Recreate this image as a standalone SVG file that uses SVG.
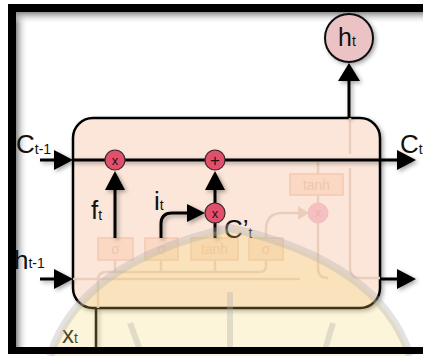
<svg xmlns="http://www.w3.org/2000/svg" width="423" height="356" viewBox="0 0 423 356">
<defs>
<style>
text{font-family:"Liberation Sans",Arial,sans-serif;fill:#111}
.big{font-size:26px}
.sub{font-size:14px}
.ln{fill:none;stroke:#000;stroke-width:3}
.fd{fill:none;stroke:#ebcdbb;stroke-width:2.5}
.fbox{fill:#fad8c4;stroke:#f3c9b0;stroke-width:1.5}
.ftx{font-size:14px;fill:#f0c6ac}
.op{fill:#e24f6d;stroke:#3a2a2a;stroke-width:1.2}
.opt{font-size:13px;fill:#2a1010;text-anchor:middle}
.ah{fill:#000}
</style>
<linearGradient id="gl" x1="0" y1="0" x2="1" y2="0"><stop offset="0" stop-color="#8a8a8a"/><stop offset="1" stop-color="#fff" stop-opacity="0"/></linearGradient>
<linearGradient id="gt" x1="0" y1="0" x2="0" y2="1"><stop offset="0" stop-color="#8a8a8a"/><stop offset="1" stop-color="#fff" stop-opacity="0"/></linearGradient>
<filter id="sh" x="-20%" y="-20%" width="140%" height="140%"><feDropShadow dx="2" dy="2" stdDeviation="2" flood-color="#000" flood-opacity="0.35"/></filter>
</defs>
<rect width="423" height="356" fill="#fff"/>
<rect x="16" y="12" width="12" height="335" fill="url(#gl)"/>
<rect x="16" y="12" width="407" height="12" fill="url(#gt)"/>
<g id="cell" filter="url(#sh)">
<rect x="73" y="118" width="307" height="190" rx="20" fill="#fce6da" stroke="#000" stroke-width="2.5"/>
</g>
<g id="faded">
<path class="fd" d="M350,118V154M350,168V268Q350,278 360,278H380"/>
<path class="fd" d="M318,162V174M318,195V204M318,222V268Q318,278 328,278"/>
<path class="fd" d="M266,238V230Q266,213 282,213H300"/>
<path d="M298,206L309,213L298,220Z" fill="#eccdb9"/>
<path class="fd" d="M115,260V272M161,260V272M215,260V272M266,260V266Q266,272 260,272H106Q98,272 98,280V308"/>
<path class="fd" d="M73,279H300"/>
<circle cx="318" cy="213" r="10" fill="#f6c0c3" stroke="#efc0b8" stroke-width="1"/>
<text x="318" y="217" class="opt" style="fill:#eab4ae">x</text>
<rect class="fbox" x="290" y="174" width="53" height="21"/>
<text class="ftx" x="316.5" y="190" text-anchor="middle">tanh</text>
<rect class="fbox" x="98" y="238" width="35" height="22"/>
<text class="ftx" x="115.5" y="254" text-anchor="middle">σ</text>
<rect class="fbox" x="145" y="238" width="33" height="22"/>
<text class="ftx" x="161.5" y="254" text-anchor="middle">σ</text>
<rect class="fbox" x="191" y="238" width="47" height="22"/>
<text class="ftx" x="214.5" y="254" text-anchor="middle">tanh</text>
<rect class="fbox" x="249" y="238" width="34" height="22"/>
<text class="ftx" x="266" y="254" text-anchor="middle">σ</text>
</g>
<g id="connectors" filter="url(#sh)">
<path class="ln" d="M40,160H56"/>
<path class="ah" d="M54,150L73,160L54,170Z"/>
<path class="ln" d="M73,160H400"/>
<path class="ah" d="M397,150L416,160L397,170Z"/>
<path class="ln" d="M40,279H56"/>
<path class="ah" d="M54,269L73,279L54,289Z"/>
<path class="ln" d="M380,279H400"/>
<path class="ah" d="M397,269L416,279L397,289Z"/>
<path class="ln" d="M349,118V78"/>
<path class="ah" d="M338,81L349,63L360,81Z"/>
<path class="ln" d="M115,238V186"/>
<path class="ah" d="M105,190L115,171L125,190Z"/>
<path class="ln" d="M215,203V186"/>
<path class="ah" d="M205,190L215,171L225,190Z"/>
<path class="ln" d="M215,238V222"/>
<path class="ln" d="M161,238V224Q161,213 172,213H190"/>
<path class="ah" d="M187,204L205,213L187,222Z"/>
<path d="M96,308V347" stroke="#000" stroke-width="2.5"/>
</g>
<g id="op-f">
<circle class="op" cx="115" cy="160" r="10"/>
<text class="opt" x="115" y="164.5">x</text>
</g>
<g id="op-plus">
<circle class="op" cx="215" cy="160" r="10"/>
<text class="opt" x="215" y="165.5" style="font-size:17px">+</text>
</g>
<g id="op-i">
<circle class="op" cx="215" cy="213" r="10"/>
<text class="opt" x="215" y="217.5">x</text>
</g>
<g id="ht" filter="url(#sh)">
<circle cx="349" cy="38" r="24" fill="#ebc3c4" stroke="#111" stroke-width="2"/>
</g>
<g id="labels">
<text x="338" y="46" style="font-size:25px">h<tspan class="sub" dy="0" style="font-size:14px">t</tspan></text>
<text x="16" y="153" class="big">C<tspan class="sub" dy="1">t-1</tspan></text>
<text x="400" y="153" class="big">C<tspan class="sub" dy="1">t</tspan></text>
<text x="14" y="269" class="big">h<tspan class="sub" dy="-1">t-1</tspan></text>
<text x="62" y="343" style="font-size:24px">x<tspan class="sub" dy="0">t</tspan></text>
<text x="91" y="219" class="big">f<tspan class="sub" dy="1">t</tspan></text>
<text x="154" y="210" class="big">i<tspan class="sub" dy="0">t</tspan></text>
<text x="224" y="238" class="big">C’<tspan class="sub" dy="0">t</tspan></text>
</g>
<g id="watermark">
<path d="M230,228Q80,262 50,356H410Q380,262 230,228Z" fill="#f5d868" fill-opacity="0.25"/>
<path d="M50,356Q80,262 230,228Q380,262 410,356" fill="none" stroke="#b0b0b0" stroke-opacity="0.35" stroke-width="8"/>
<path d="M230,292V350M130,323L140,350M333,323L325,350" stroke="#b0b0b0" stroke-opacity="0.35" stroke-width="6" fill="none"/>
</g>
<g id="frame" fill="#000">
<rect x="8" y="4" width="8" height="350"/>
<rect x="8" y="4" width="415" height="8"/>
<rect x="8" y="347" width="415" height="7"/>
</g>
</svg>
